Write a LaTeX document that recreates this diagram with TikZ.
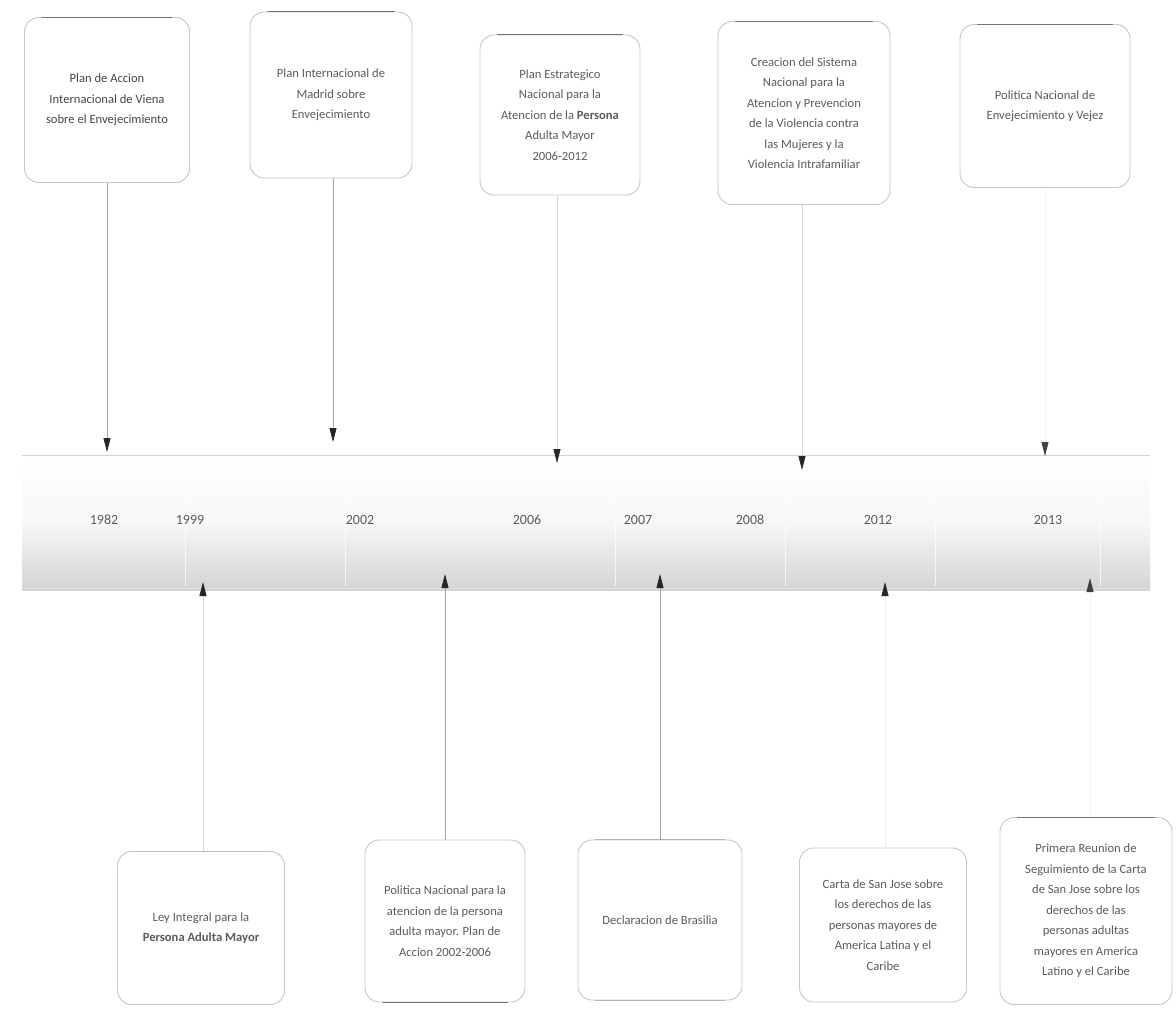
\documentclass[tikz,border=0pt]{standalone}
\usepackage{fontspec}
\setmainfont{Carlito}
\usetikzlibrary{arrows.meta}
\definecolor{inkgray}{gray}{0.36}
\definecolor{edgegray}{gray}{0.78}
\definecolor{rimgray}{gray}{0.45}
\begin{document}
\begin{tikzpicture}[x=1pt,y=-1pt,
  eventbox/.style={draw=edgegray,line width=0.9pt,rounded corners=14pt,fill=white,
    align=center,text=inkgray,font=\fontsize{12.6}{20.5}\selectfont,inner sep=4pt},
  yearlabel/.style={text=inkgray,font=\fontsize{14}{15}\selectfont},
  link/.style={draw=gray!70,line width=0.8pt,-{Triangle[length=14pt,width=7pt,color=black!85]}},
  softlink/.style={draw=gray!30,line width=0.8pt,-{Triangle[length=14pt,width=7pt,color=black!85]}},
  faintlink/.style={draw=gray!8,line width=0.8pt,-{Triangle[length=14pt,width=7pt,color=black!75]}},
  rim/.style={draw=rimgray,line width=1.1pt,line cap=round}]
\useasboundingbox (0,0) rectangle (1176,1013);
\fill[white] (0,0) rectangle (1176,1013);

% timeline band
\shade[top color=white,bottom color=black!17,middle color=black!3] (22,455) rectangle (1150,590);
\draw[gray!35,line width=0.6pt] (22,455) -- (1150,455);
\draw[gray!25,line width=0.6pt] (22,588) -- (1150,588);
\foreach \sx in {185,345,615,785,935,1100}
  \draw[white,line width=1pt,opacity=0.7] (\sx,458) -- (\sx,586);

% years
\node[yearlabel] (y1982) at (104,520) {1982};
\node[yearlabel] (y1999) at (190,520) {1999};
\node[yearlabel] (y2002) at (360,520) {2002};
\node[yearlabel] (y2006) at (527,520) {2006};
\node[yearlabel] (y2007) at (638,520) {2007};
\node[yearlabel] (y2008) at (750,520) {2008};
\node[yearlabel] (y2012) at (878,520) {2012};
\node[yearlabel] (y2013) at (1048,520) {2013};

% upper events
\node[eventbox,minimum width=165pt,minimum height=165pt,text=black!72] (t1) at (107,100)
  {Plan de Accion\\Internacional de Viena\\sobre el Envejecimiento};
\node[eventbox,minimum width=162pt,minimum height=166pt] (t2) at (331,95)
  {Plan Internacional de\\Madrid sobre\\Envejecimiento};
\node[eventbox,minimum width=160pt,minimum height=160pt] (t3) at (560,115)
  {Plan Estrategico\\Nacional para la\\Atencion de la \textbf{Persona}\\Adulta Mayor\\2006-2012};
\node[eventbox,minimum width=172pt,minimum height=183pt] (t4) at (804,113)
  {Creacion del Sistema\\Nacional para la\\Atencion y Prevencion\\de la Violencia contra\\las Mujeres y la\\Violencia Intrafamiliar};
\node[eventbox,minimum width=170pt,minimum height=163pt] (t5) at (1045,106)
  {Politica Nacional de\\Envejecimiento y Vejez};

% darker top rims of the upper boxes
\foreach \b in {t1,t2,t3,t4,t5}
  \draw[rim] ([xshift=18pt]\b.north west) -- ([xshift=-18pt]\b.north east);

% lower events
\node[eventbox,minimum width=167pt,minimum height=153pt] (b1) at (201,928)
  {Ley Integral para la\\\textbf{Persona Adulta Mayor}};
\node[eventbox,minimum width=160pt,minimum height=162pt] (b2) at (445,921)
  {Politica Nacional para la\\atencion de la persona\\adulta mayor. Plan de\\Accion 2002-2006};
\node[eventbox,minimum width=164pt,minimum height=160pt] (b3) at (660,920)
  {Declaracion de Brasilia};
\node[eventbox,minimum width=167pt,minimum height=154pt] (b4) at (883,925)
  {Carta de San Jose sobre\\los derechos de las\\personas mayores de\\America Latina y el\\Caribe};
\node[eventbox,minimum width=172pt,minimum height=187pt] (b5) at (1086,911)
  {Primera Reunion de\\Seguimiento de la Carta\\de San Jose sobre los\\derechos de las\\personas adultas\\mayores en America\\Latino y el Caribe};

% darker rims of the lower boxes
\draw[rim] ([xshift=18pt]b2.south west) -- ([xshift=-18pt]b2.south east);
\draw[rim,draw=gray!60] ([xshift=18pt]b3.north west) -- ([xshift=-18pt]b3.north east);
\draw[rim,draw=gray!60] ([xshift=18pt]b3.south west) -- ([xshift=-18pt]b3.south east);
\draw[rim] ([xshift=18pt]b5.north west) -- ([xshift=-18pt]b5.north east);
\draw[rim,draw=gray!50] ([xshift=18pt]b1.north west) -- ([xshift=-18pt]b1.north east);

% arrow end points on the band
\coordinate (p1982) at (107,452);
\coordinate (p2002a) at (333,442);
\coordinate (p2006) at (557,463);
\coordinate (p2008) at (802,470);
\coordinate (p2013a) at (1045,456);
\coordinate (p1999) at (203,582);
\coordinate (p2002b) at (445,574);
\coordinate (p2007) at (660,574);
\coordinate (p2012) at (885,582);
\coordinate (p2013b) at (1090,578);

% connectors from the upper boxes
\draw[link] (t1.south) -- (p1982);
\draw[link] (t2.south -| p2002a) -- (p2002a);
\draw[softlink] (t3.south -| p2006) -- (p2006);
\draw[softlink] (t4.south -| p2008) -- (p2008);
\draw[faintlink] (t5.south) -- (p2013a);

% connectors from the lower boxes
\draw[softlink] (b1.north -| p1999) -- (p1999);
\draw[link] (b2.north) -- (p2002b);
\draw[link] (b3.north) -- (p2007);
\draw[softlink,draw=gray!15] (b4.north -| p2012) -- (p2012);
\draw[faintlink] (b5.north -| p2013b) -- (p2013b);
\end{tikzpicture}
\end{document}
